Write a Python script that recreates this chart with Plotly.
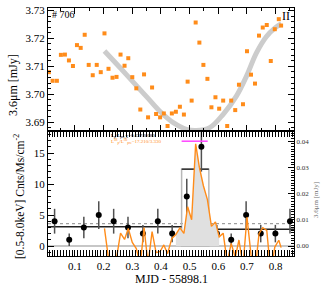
import plotly.graph_objects as go

# ---------------- data ----------------
# Top panel: IR 3.6um light curve (MJD - 55898.1, mJy)
ir_mjd = [0.009, 0.022, 0.037, 0.051, 0.065, 0.079, 0.093, 0.107, 0.120, 0.134,
          0.148, 0.162, 0.176, 0.190, 0.203, 0.217, 0.231, 0.245, 0.259, 0.273,
          0.286, 0.300, 0.314, 0.328, 0.341, 0.355, 0.369, 0.383, 0.397, 0.410,
          0.423, 0.438, 0.452, 0.466, 0.480, 0.493, 0.507, 0.521, 0.534, 0.548,
          0.562, 0.576, 0.590, 0.603, 0.617, 0.631, 0.645, 0.659, 0.672, 0.686,
          0.700, 0.714, 0.728, 0.742, 0.755, 0.769, 0.783, 0.797, 0.811, 0.819]
ir_flux = [3.7079, 3.7048, 3.7048, 3.7141, 3.7142, 3.7121, 3.7101, 3.7176, 3.7166, 3.7213,
           3.7105, 3.7068, 3.7105, 3.7079, 3.7218, 3.7091, 3.7059, 3.7062, 3.7142, 3.7102,
           3.7129, 3.7061, 3.7021, 3.6945, 3.7071, 3.6917, 3.7024, 3.6929, 3.6917, 3.6931,
           3.6886, 3.6931, 3.6937, 3.6955, 3.6927, 3.7045, 3.6977, 3.7257, 3.7185, 3.7105,
           3.7055, 3.6953, 3.6989, 3.6948, 3.6977, 3.6886, 3.6977, 3.6943, 3.7034, 3.6964,
           3.7154, 3.7070, 3.7038, 3.7210, 3.7239, 3.7248, 3.7119, 3.7233, 3.7269, 3.7246]

# Grey model curve
model_mjd = [0.203, 0.260, 0.316, 0.356, 0.396, 0.443, 0.489, 0.524, 0.570, 0.617,
             0.663, 0.698, 0.733, 0.768, 0.797, 0.820]
model_flux = [3.7155, 3.7092, 3.7029, 3.6984, 3.6939, 3.6898, 3.6874, 3.6870, 3.6880, 3.6928,
              3.6993, 3.7064, 3.7148, 3.7207, 3.7237, 3.7253]

# IR residual (mJy, right axis of lower panel)
res_mjd = [0.203, 0.217, 0.231, 0.245, 0.259, 0.273, 0.286, 0.300, 0.314, 0.328,
           0.341, 0.355, 0.369, 0.383, 0.397, 0.410, 0.423, 0.438, 0.452, 0.466,
           0.480, 0.493, 0.507, 0.521, 0.534, 0.548, 0.562, 0.576, 0.590, 0.603,
           0.617, 0.631, 0.645, 0.659, 0.672, 0.686, 0.700, 0.714, 0.728, 0.742,
           0.755, 0.769, 0.783, 0.797, 0.811, 0.819]
res_flux = [0.0067, -0.0048, -0.0065, -0.0046, 0.0049, 0.0025, 0.0067, 0.0014, -0.0010, -0.0071,
            0.0070, -0.0068, 0.0055, -0.0025, -0.0021, 0.0004, -0.0029, 0.0029, 0.0044, 0.0069,
            0.0048, 0.0150, 0.0100, 0.0390, 0.0300, 0.0230, 0.0177, 0.0075, 0.0092, 0.0035,
            0.0049, -0.0062, 0.0010, -0.0044, 0.0023, -0.0076, 0.0110, -0.0033, -0.0098, 0.0047,
            0.0070, 0.0060, -0.0104, -0.0004, 0.0022, -0.0006]

# X-ray counts (0.5-8 keV)
xr_mjd = [0.029, 0.080, 0.131, 0.183, 0.235, 0.285, 0.337, 0.389, 0.439,
          0.490, 0.541, 0.595, 0.645, 0.697, 0.748, 0.799, 0.850]
xr_cnt = [4, 1, 3, 5, 4, 3, 2, 4, 2, 8, 16, 2, 1, 5, 2, 2, 4]
xr_err = [2.0, 1.0, 1.73, 2.24, 2.0, 1.73, 1.41, 2.0, 1.41, 2.83, 4.0, 1.41, 1.0, 2.24, 1.41, 1.41, 2.0]

# Bayesian blocks
blk_start = [0.006, 0.472, 0.567]
blk_end = [0.472, 0.567, 0.864]
blk_level = [3.1, 12.4, 2.7]

flare_lo, flare_hi = 0.452, 0.603
mean_level = 3.6
ir_peak_level = 0.04

# ---------------- figure ----------------
ORANGE = "#ff8c1a"
FONT = "Liberation Serif"
XR = [0.006, 0.864]
Y1 = [3.6868, 3.7309]
Y2 = [-1.61, 18.55]
Y3 = [-0.00381, 0.04389]

fig = go.Figure()

# top panel
fig.add_trace(go.Scatter(x=model_mjd, y=model_flux, mode="lines", line=dict(color="#cccccc", width=5),
                         xaxis="x", yaxis="y", line_shape="spline", hoverinfo="skip"))
fig.add_trace(go.Scatter(x=ir_mjd, y=ir_flux, mode="markers",
                         marker=dict(symbol="square", size=4, color=ORANGE),
                         xaxis="x", yaxis="y"))

# bottom panel: flare fill under residual
fx = [flare_lo] + [x for x in res_mjd if flare_lo <= x <= flare_hi] + [flare_hi]
fy = [0] + [y for x, y in zip(res_mjd, res_flux) if flare_lo <= x <= flare_hi] + [0]
fig.add_trace(go.Scatter(x=fx, y=fy, mode="lines", fill="toself", fillcolor="#e0e0e0",
                         line=dict(width=0), xaxis="x2", yaxis="y3", hoverinfo="skip"))
fig.add_trace(go.Scatter(x=res_mjd, y=res_flux, mode="lines", line=dict(color=ORANGE, width=1.4),
                         xaxis="x2", yaxis="y3"))

# block line
bx, by = [], []
for s, e, l in zip(blk_start, blk_end, blk_level):
    bx += [s, e, None]
    by += [l, l, None]
fig.add_trace(go.Scatter(x=bx, y=by, mode="lines", line=dict(color="#222222", width=1.4),
                         xaxis="x2", yaxis="y2", hoverinfo="skip"))

fig.add_trace(go.Scatter(x=xr_mjd, y=xr_cnt, mode="markers",
                         marker=dict(size=6, color="black"),
                         error_y=dict(type="data", array=xr_err, color="#505050", thickness=1.5, width=0),
                         xaxis="x2", yaxis="y2"))

shapes = [
    dict(type="line", xref="x2", yref="y2", x0=XR[0], x1=XR[1], y0=0, y1=0,
         line=dict(color="#b4b4b4", width=1.5), layer="below"),
    dict(type="line", xref="x2", yref="y2", x0=XR[0], x1=XR[1], y0=mean_level, y1=mean_level,
         line=dict(color="#888888", width=1, dash="dot"), layer="below"),
    dict(type="rect", xref="x2", yref="y2", x0=blk_start[1], x1=blk_end[1], y0=0, y1=blk_level[1],
         line=dict(color="#b8b8b8", width=1.5), layer="below"),
    dict(type="line", xref="x2", yref="y3", x0=blk_start[1], x1=0.563, y0=ir_peak_level, y1=ir_peak_level,
         line=dict(color="#ff44ff", width=1.5)),
]

def px(x):
    return (x - 48) / 246.0

def py(y):
    return (256 - y) / 248.0

def ann(text, x, y, size, color="black", angle=0, xanchor="center"):
    return dict(text=text, x=px(x), y=py(y), xref="paper", yref="paper", xanchor=xanchor,
                yanchor="middle", textangle=angle, showarrow=False,
                font=dict(family=FONT, size=size, color=color))

annotations = [
    ann("# 706", 50, 15, 10, xanchor="left"),
    ann("II", 285.5, 15.5, 12),
    ann("3.6μm [mJy]", 13, 85, 12, angle=-90),
    ann("[0.5-8.0keV] Cnts/Ms/cm<sup>-2</sup>", 19, 197, 11.5, angle=-90),
    ann("3.6μm [mJy]", 316, 200, 7, color="#707070", angle=-90),
    ann("MJD - 55898.1", 171, 279, 12),
    ann("L<sub>p</sub>/L<sub>pre,X</sub>=0.637/0.080", 109, 136.5, 5, xanchor="left"),
    ann("L<sup>IR</sup><sub>p</sub>/L<sup>IR</sup><sub>pre</sub>=17.210/3.330", 109, 141.5, 5,
        color=ORANGE, xanchor="left"),
]

tickfont = dict(family=FONT, size=11, color="black")
common = dict(showgrid=False, zeroline=False, showline=True, linecolor="black", linewidth=1,
              ticks="inside", tickcolor="black", ticklen=6, tickwidth=1, automargin=False)

fig.update_layout(
    width=327, height=291,
    margin=dict(l=48, r=33, t=8, b=35, autoexpand=False),
    paper_bgcolor="white", plot_bgcolor="white",
    showlegend=False,
    shapes=shapes, annotations=annotations,
    xaxis=dict(domain=[0, 1], anchor="y", range=XR, dtick=0.1, tick0=0, showticklabels=False,
               mirror="allticks",
               minor=dict(dtick=0.05, ticklen=3, ticks="inside", tickcolor="black"), **common),
    yaxis=dict(domain=[0.504, 1], anchor="x", range=Y1, dtick=0.01, tick0=3.69, tickformat=".2f",
               mirror="allticks", tickfont=tickfont,
               minor=dict(dtick=0.002, ticklen=3, ticks="inside", tickcolor="black"), **common),
    xaxis2=dict(domain=[0, 1], anchor="y2", range=XR, dtick=0.1, tick0=0, tickformat=".1f",
                mirror="allticks", tickfont=tickfont,
                minor=dict(dtick=0.01, ticklen=3, ticks="inside", tickcolor="black"), **common),
    yaxis2=dict(domain=[0, 0.504], anchor="x2", range=Y2, dtick=5, tick0=0, mirror=True,
                tickfont=tickfont,
                minor=dict(dtick=1, ticklen=3, ticks="inside", tickcolor="black"), **common),
    yaxis3=dict(overlaying="y2", anchor="x2", side="right", range=Y3, dtick=0.01, tick0=0,
                tickformat=".2f", tickfont=dict(family=FONT, size=7, color="#333333"),
                minor=dict(dtick=0.001, ticklen=3, ticks="inside", tickcolor="black"), **common),
)

fig.write_html("out.html", config={"displayModeBar": False},
               post_script="document.body.style.margin='0';document.body.style.padding='0';")
